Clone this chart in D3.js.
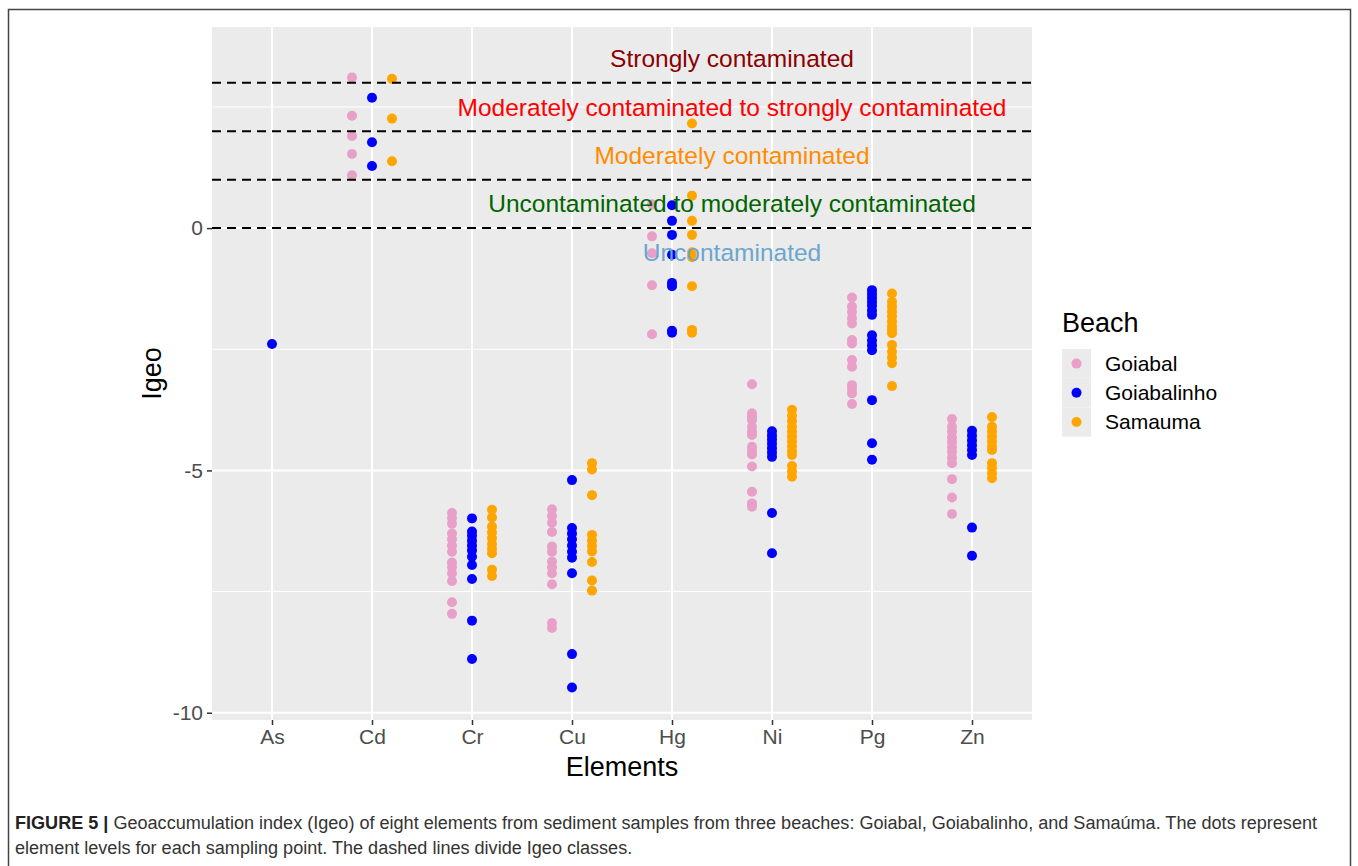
<!DOCTYPE html>
<html>
<head>
<meta charset="utf-8">
<script src="https://cdn.jsdelivr.net/npm/d3@7"></script>
<style>
  body { margin: 0; background: #fff; }
  svg { display: block; font-family: "Liberation Sans", Arial, Helvetica, sans-serif; }
</style>
</head>
<body>
<svg id="chart" width="1358" height="866"></svg>
<script>
const elements = ["As", "Cd", "Cr", "Cu", "Hg", "Ni", "Pg", "Zn"];
const beaches = ["Goiabal", "Goiabalinho", "Samauma"];
const beachColors = ["#e8a0c9", "#0000ff", "#ffa500"];

// Igeo values per element (same order as elements)
const goiabal = [
    [],
    [3.11, 2.32, 1.90, 1.53, 1.09],
    [-5.88, -5.98, -6.1, -6.3, -6.42, -6.55, -6.68, -6.9, -7.0, -7.12, -7.28, -7.72, -7.96],
    [-5.8, -5.94, -6.08, -6.27, -6.57, -6.68, -6.88, -7.0, -7.12, -7.35, -8.15, -8.25],
    [0.49, -0.17, -0.52, -1.18, -2.19],
    [-3.22, -3.82, -3.9, -3.96, -4.1, -4.2, -4.27, -4.51, -4.6, -4.67, -4.92, -5.44, -5.68, -5.75],
    [-1.43, -1.62, -1.73, -1.86, -1.97, -2.31, -2.38, -2.72, -2.86, -3.24, -3.32, -3.41, -3.63],
    [-3.94, -4.1, -4.2, -4.32, -4.42, -4.52, -4.62, -4.74, -4.85, -5.18, -5.56, -5.9]
];
const goiabalinho = [
    [-2.39],
    [2.69, 1.77, 1.28],
    [-5.99, -6.26, -6.35, -6.45, -6.55, -6.65, -6.78, -6.95, -7.24, -8.10, -8.89],
    [-5.2, -6.19, -6.3, -6.42, -6.55, -6.68, -6.8, -7.12, -8.79, -9.48],
    [0.47, 0.15, -0.14, -0.55, -1.13, -1.2, -2.12, -2.16],
    [-4.19, -4.28, -4.36, -4.45, -4.54, -4.63, -4.72, -5.88, -6.71],
    [-1.28, -1.36, -1.44, -1.52, -1.6, -1.7, -1.79, -2.21, -2.32, -2.42, -2.52, -3.55, -4.44, -4.78],
    [-4.18, -4.28, -4.38, -4.48, -4.58, -4.68, -6.18, -6.76]
];
const samauma = [
    [],
    [3.08, 2.26, 1.38],
    [-5.81, -5.97, -6.16, -6.28, -6.4, -6.52, -6.62, -6.71, -7.05, -7.18],
    [-4.85, -4.98, -5.51, -6.33, -6.45, -6.56, -6.67, -6.89, -7.27, -7.48],
    [2.16, 0.67, 0.15, -0.14, -0.5, -0.6, -1.2, -2.1, -2.16],
    [-3.75, -3.87, -3.98, -4.1, -4.2, -4.3, -4.4, -4.5, -4.6, -4.68, -4.91, -5.02, -5.13],
    [-1.35, -1.52, -1.62, -1.72, -1.82, -1.92, -2.02, -2.1, -2.17, -2.41, -2.55, -2.67, -2.79, -3.26],
    [-3.9, -4.1, -4.2, -4.3, -4.4, -4.5, -4.58, -4.85, -4.95, -5.06, -5.16]
];
const beachValues = [goiabal, goiabalinho, samauma];

const classBreaks = [0, 1, 2, 3];
const classLabels = ["Strongly contaminated", "Moderately contaminated to strongly contaminated",
    "Moderately contaminated", "Uncontaminated to moderately contaminated", "Uncontaminated"];
const classLabelY = [3.5, 2.5, 1.5, 0.5, -0.5];
const classColors = ["#8b0000", "#ff0000", "#ff8c00", "#006400", "#6ca6cd"];
const yTicks = [-10, -5, 0];
const yMinor = [-7.5, -2.5, 2.5];

const caption1 = " Geoaccumulation index (Igeo) of eight elements from sediment samples from three beaches: Goiabal, Goiabalinho, and Samaúma. The dots represent";
const caption2 = "element levels for each sampling point. The dashed lines divide Igeo classes.";

const svg = d3.select("#chart");
const panel = { left: 212, right: 1032, top: 27, bottom: 720 };

const x = d3.scalePoint().domain(elements).range([panel.left, panel.right]).padding(0.6);
const y = d3.scaleLinear().domain([-10.15, 4.15]).range([panel.bottom, panel.top]);

// outer frame
svg.append("rect")
    .attr("x", 8.5).attr("y", 9.5)
    .attr("width", 1342).attr("height", 880)
    .attr("fill", "none").attr("stroke", "#444").attr("stroke-width", 1.5);

// panel
svg.append("rect")
    .attr("x", panel.left).attr("y", panel.top)
    .attr("width", panel.right - panel.left).attr("height", panel.bottom - panel.top)
    .attr("fill", "#ebebeb");

let grid = svg.append("g");
yMinor.forEach(v => {
    grid.append("line").attr("x1", panel.left).attr("x2", panel.right)
        .attr("y1", y(v)).attr("y2", y(v)).attr("stroke", "#fff").attr("stroke-width", 1);
});
yTicks.forEach(v => {
    grid.append("line").attr("x1", panel.left).attr("x2", panel.right)
        .attr("y1", y(v)).attr("y2", y(v)).attr("stroke", "#fff").attr("stroke-width", 2);
});
elements.forEach(e => {
    grid.append("line").attr("x1", x(e)).attr("x2", x(e))
        .attr("y1", panel.top).attr("y2", panel.bottom).attr("stroke", "#fff").attr("stroke-width", 2);
});

// points, dodged by beach
let pts = [];
elements.forEach((e, i) => {
    let present = beaches.map((b, j) => j).filter(j => beachValues[j][i].length > 0);
    present.forEach((j, k) => {
        let off = (k - (present.length - 1) / 2) * 0.2 * x.step();
        beachValues[j][i].forEach(v => pts.push({ e: e, b: j, v: v, off: off }));
    });
});
svg.append("g").selectAll("circle").data(pts).join("circle")
    .attr("cx", d => x(d.e) + d.off)
    .attr("cy", d => y(d.v))
    .attr("r", 5)
    .attr("fill", d => beachColors[d.b]);

// class boundaries
svg.append("g").selectAll("line").data(classBreaks).join("line")
    .attr("x1", panel.left).attr("x2", panel.right)
    .attr("y1", d => y(d)).attr("y2", d => y(d))
    .attr("stroke", "#000").attr("stroke-width", 2)
    .attr("stroke-dasharray", "9,6");

let labelX = x("Hg") + 0.6 * x.step();
svg.append("g").selectAll("text").data(classLabels).join("text")
    .attr("x", labelX)
    .attr("y", (d, i) => y(classLabelY[i]))
    .attr("dy", "0.35em")
    .attr("text-anchor", "middle")
    .attr("font-size", 24.5)
    .attr("fill", (d, i) => classColors[i])
    .text(d => d);

// axes
let yAxis = svg.append("g").attr("transform", `translate(${panel.left},0)`)
    .call(d3.axisLeft(y).tickValues(yTicks).tickSize(5).tickPadding(4).tickFormat(d => String(d)));
let xAxis = svg.append("g").attr("transform", `translate(0,${panel.bottom})`)
    .call(d3.axisBottom(x).tickSize(5).tickPadding(4));
[xAxis, yAxis].forEach(a => {
    a.select(".domain").remove();
    a.selectAll(".tick line").attr("stroke", "#333").attr("stroke-width", 1.5);
    a.selectAll(".tick text").attr("fill", "#4d4d4d").attr("font-size", 21)
        .attr("font-family", "Liberation Sans, Arial, sans-serif");
});

svg.append("text")
    .attr("x", (panel.left + panel.right) / 2).attr("y", 776)
    .attr("text-anchor", "middle").attr("font-size", 27).attr("fill", "#000")
    .text("Elements");
svg.append("text")
    .attr("transform", `translate(161,${(panel.top + panel.bottom) / 2}) rotate(-90)`)
    .attr("text-anchor", "middle").attr("font-size", 27).attr("fill", "#000")
    .text("Igeo");

// legend
let leg = svg.append("g").attr("transform", "translate(1062,349)");
leg.append("text").attr("x", 0).attr("y", -17).attr("font-size", 27).text("Beach");
beaches.forEach((b, i) => {
    leg.append("rect").attr("x", 0).attr("y", i * 29.2).attr("width", 29).attr("height", 29.2)
        .attr("fill", "#ebebeb");
    leg.append("circle").attr("cx", 14.5).attr("cy", i * 29.2 + 14.6).attr("r", 5)
        .attr("fill", beachColors[i]);
    leg.append("text").attr("x", 43).attr("y", i * 29.2 + 14.6).attr("dy", "0.35em")
        .attr("font-size", 21).text(b);
});

// caption
let cap = svg.append("text").attr("x", 15).attr("y", 829).attr("font-size", 18).attr("fill", "#333");
cap.append("tspan").attr("font-weight", "bold").attr("fill", "#222").text("FIGURE 5 |");
cap.append("tspan").text(caption1);
let natural = cap.node().getComputedTextLength();
let ratio = 1302 / natural;
cap.attr("textLength", 1302).attr("lengthAdjust", "spacingAndGlyphs");
let cap2 = svg.append("text").attr("x", 15).attr("y", 854).attr("font-size", 18).attr("fill", "#333")
    .text(caption2);
cap2.attr("textLength", cap2.node().getComputedTextLength() * ratio).attr("lengthAdjust", "spacingAndGlyphs");
</script>
</body>
</html>
